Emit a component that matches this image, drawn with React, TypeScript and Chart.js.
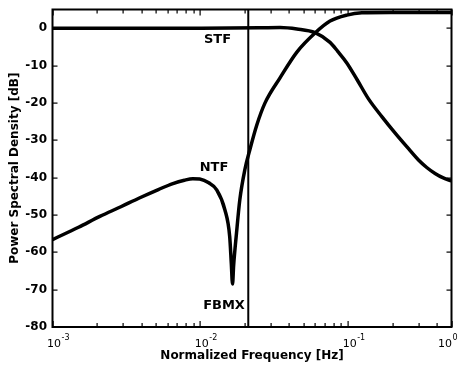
import React, { useEffect, useRef } from "react";
import { Chart, registerables } from "chart.js";

Chart.register(...registerables);

// ---- Data ----
const NTF_FREQ = [0.001, 0.0015, 0.00209, 0.0029, 0.0039, 0.0052, 0.00652, 0.0078, 0.0089, 0.0099, 0.0114, 0.01286, 0.01465, 0.0158, 0.0162, 0.01651, 0.0168, 0.01757, 0.0185, 0.02, 0.0216, 0.0241, 0.0274, 0.0346, 0.045, 0.0597, 0.0754, 0.0979, 0.1238, 0.1923, 0.307, 0.5];
const NTF_DB = [-56.6, -53.3, -50.4, -47.8, -45.4, -43.2, -41.6, -40.7, -40.3, -40.4, -41.4, -43.2, -48.6, -55.8, -63.0, -68.5, -63.5, -54.8, -45.9, -37.9, -32.6, -25.9, -20.0, -13.3, -6.4, -1.3, 1.9, 3.5, 4.1, 4.2, 4.2, 4.2];

const STF_FREQ = [0.001, 0.003, 0.01, 0.025, 0.0346, 0.045, 0.0597, 0.0754, 0.085, 0.0979, 0.115, 0.1376, 0.17, 0.208, 0.25, 0.299, 0.34, 0.387, 0.44, 0.5];
const STF_DB = [0, 0, 0, 0.1, 0.2, -0.2, -1.2, -3.8, -6.2, -9.3, -13.8, -19.0, -23.8, -28.1, -31.8, -35.3, -37.3, -38.9, -40.1, -40.9];

const FBMX_FREQ = 0.0211;

const X_MIN = 0.001;
const X_MAX = 0.5;
const Y_MIN = -80;
const Y_MAX = 5;

const X_MAJOR_TICKS = [0.001, 0.01, 0.1, 0.5];
const X_MAJOR_EXPONENTS = ["-3", "-2", "-1", "0"];
const X_MINOR_MULT = [2, 3, 4, 5, 6, 7, 8, 9];
const X_MINOR_DECADES = [0.001, 0.01, 0.1];
const Y_TICKS = [-80, -70, -60, -50, -40, -30, -20, -10, 0];

const CURVE_LABELS = [
  { text: "STF", f: 0.01307, db: -3.0 },
  { text: "NTF", f: 0.01238, db: -37.3 },
  { text: "FBMX", f: 0.01446, db: -74.4 },
];

const FONT = "'DejaVu Sans', Verdana, sans-serif";

function buildXTicks() {
  const vals: number[] = [...X_MAJOR_TICKS];
  X_MINOR_DECADES.forEach((d) => {
    X_MINOR_MULT.forEach((m) => {
      const v = +(d * m).toPrecision(6);
      if (v <= X_MAX && !vals.includes(v)) vals.push(v);
    });
  });
  return vals.sort((a, b) => a - b);
}
const X_ALL_TICKS = buildXTicks();

const framePlugin = {
  id: "frameTicks",
  afterDraw(chart: any) {
    const { ctx, chartArea } = chart;
    const { left, right, top, bottom } = chartArea;
    const xs = chart.scales.x;
    const ys = chart.scales.y;
    ctx.save();
    ctx.lineWidth = 2;
    ctx.strokeStyle = "#000";
    ctx.strokeRect(left, top, right - left, bottom - top);
    ctx.fillStyle = "#000";
    for (let i = 0; i < X_ALL_TICKS.length; i++) {
      const v = X_ALL_TICKS[i];
      const px = Math.round(xs.getPixelForValue(v));
      const len = X_MAJOR_TICKS.indexOf(v) >= 0 ? 6 : 4;
      ctx.fillRect(px - 0.5, bottom - len, 1.2, len);
      ctx.fillRect(px - 0.5, top, 1.2, len);
    }
    for (let i = 0; i < Y_TICKS.length; i++) {
      const py = Math.round(ys.getPixelForValue(Y_TICKS[i]));
      ctx.fillRect(left, py - 0.5, 5, 1.2);
      ctx.fillRect(right - 5, py - 0.5, 5, 1.2);
    }

    ctx.font = `bold 13px ${FONT}`;
    ctx.textAlign = "center";
    ctx.textBaseline = "middle";
    CURVE_LABELS.forEach((l) => {
      ctx.fillText(l.text, xs.getPixelForValue(l.f), ys.getPixelForValue(l.db));
    });

    // x tick labels: 10 with superscript exponent
    ctx.textAlign = "left";
    ctx.textBaseline = "alphabetic";
    const baseFont = `11px ${FONT}`;
    const expFont = `8px ${FONT}`;
    X_MAJOR_TICKS.forEach((v, i) => {
      const px = xs.getPixelForValue(v);
      ctx.font = baseFont;
      const w10 = ctx.measureText("10").width;
      ctx.font = expFont;
      const wExp = ctx.measureText(X_MAJOR_EXPONENTS[i]).width;
      let x0 = px + 1.5 - w10 / 2;
      if (x0 + w10 + wExp > chart.width - 2) x0 = chart.width - 2 - w10 - wExp;
      ctx.font = baseFont;
      ctx.fillText("10", x0, bottom + 19.5);
      ctx.font = expFont;
      ctx.fillText(X_MAJOR_EXPONENTS[i], x0 + w10 + 0.5, bottom + 13);
    });
    ctx.restore();
  },
};

export default function App() {
  const canvasRef = useRef<HTMLCanvasElement | null>(null);

  useEffect(() => {
    if (!canvasRef.current) return;
    const chart = new Chart(canvasRef.current, {
      type: "line",
      data: {
        datasets: [
          {
            label: "NTF",
            data: NTF_FREQ.map((f, i) => ({ x: f, y: NTF_DB[i] })),
            borderColor: "#000",
            borderWidth: 3.5,
            pointRadius: 0,
            cubicInterpolationMode: "monotone",
            fill: false,
          },
          {
            label: "STF",
            data: STF_FREQ.map((f, i) => ({ x: f, y: STF_DB[i] })),
            borderColor: "#000",
            borderWidth: 3.5,
            pointRadius: 0,
            cubicInterpolationMode: "monotone",
            fill: false,
          },
          {
            label: "FBMX",
            data: [
              { x: FBMX_FREQ, y: Y_MIN },
              { x: FBMX_FREQ, y: Y_MAX },
            ],
            borderColor: "#000",
            borderWidth: 2,
            pointRadius: 0,
            fill: false,
          },
        ],
      },
      options: {
        animation: false,
        responsive: true,
        maintainAspectRatio: false,
        layout: { padding: { top: 9.5, right: 7.5, left: 0, bottom: 0 } },
        plugins: {
          legend: { display: false },
          tooltip: { enabled: false },
        },
        scales: {
          x: {
            type: "logarithmic",
            min: X_MIN,
            max: X_MAX,
            grid: { display: false, drawTicks: false },
            border: { display: false },
            afterBuildTicks: (scale: any) => {
              scale.ticks = X_ALL_TICKS.map((v) => ({ value: v }));
            },
            afterFit: (scale: any) => {
              scale.height = 40;
              scale.paddingLeft = 0;
              scale.paddingRight = 0;
            },
            ticks: {
              autoSkip: false,
              maxRotation: 0,
              minRotation: 0,
              color: "rgba(0,0,0,0)",
              font: { family: FONT, size: 11 },
              callback: () => "",
            },
            title: {
              display: true,
              text: "Normalized Frequency [Hz]",
              color: "#000",
              font: { family: FONT, size: 12, weight: "bold" },
              padding: { top: 0, bottom: 3.5 },
            },
          },
          y: {
            type: "linear",
            min: Y_MIN,
            max: Y_MAX,
            grid: { display: false, drawTicks: false },
            border: { display: false },
            afterBuildTicks: (scale: any) => {
              scale.ticks = Y_TICKS.map((v) => ({ value: v }));
            },
            afterFit: (scale: any) => {
              scale.width = 52.5;
              scale.paddingTop = 0;
              scale.paddingBottom = 0;
            },
            ticks: {
              padding: 5.5,
              color: "#000",
              font: { family: FONT, size: 12, weight: "bold" },
              callback: (value: any) => String(value),
            },
            title: {
              display: true,
              text: "Power Spectral Density [dB]",
              color: "#000",
              font: { family: FONT, size: 12, weight: "bold" },
              padding: { top: 7.5, bottom: 0 },
            },
          },
        },
      },
      plugins: [framePlugin],
    } as any);
    return () => chart.destroy();
  }, []);

  return (
    <div style={{ position: "fixed", left: 0, top: 0, width: 459, height: 367, background: "#fff" }}>
      <canvas ref={canvasRef} />
    </div>
  );
}
